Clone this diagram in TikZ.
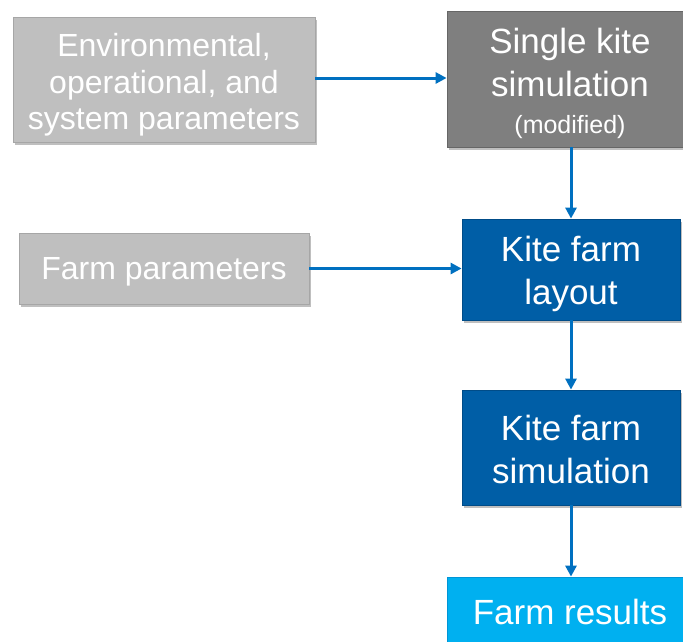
\documentclass[tikz,border=0pt]{standalone}
\usepackage{fontspec}
\setmainfont{Liberation Sans}
\usetikzlibrary{arrows.meta,shadows}
\definecolor{boxgrey}{HTML}{BFBFBF}
\definecolor{boxgreyline}{HTML}{A6A6A6}
\definecolor{darkgrey}{HTML}{7F7F7F}
\definecolor{darkgreyline}{HTML}{666666}
\definecolor{kiteblue}{HTML}{005EA6}
\definecolor{kitebluel}{HTML}{004C88}
\definecolor{lightblue}{HTML}{00B0F0}
\definecolor{lightbluel}{HTML}{0095D6}
\definecolor{arrowblue}{HTML}{0070C0}
\newcommand\liftstrut[1]{\rule{0pt}{#1}}
\tikzset{
  basebox/.style={rectangle, inner sep=0pt, align=center, text=white, line width=0.8pt,
    drop shadow={shadow xshift=1.5pt, shadow yshift=-2.5pt, opacity=0.25, fill=black}},
  greybox/.style={basebox, fill=boxgrey, draw=boxgreyline, font=\fontsize{32}{36.5}\selectfont},
  darkbox/.style={basebox, fill=darkgrey, draw=darkgreyline, font=\fontsize{35}{43}\selectfont},
  bluebox/.style={basebox, fill=kiteblue, draw=kitebluel, font=\fontsize{35}{43}\selectfont},
  resultbox/.style={basebox, fill=lightblue, draw=lightbluel, font=\fontsize{35}{43}\selectfont},
  arr/.style={draw=arrowblue, line width=3pt, -{Triangle[length=11pt,width=11pt]}}
}
\begin{document}
\begin{tikzpicture}[x=1pt,y=-1pt]
\useasboundingbox (0,0) rectangle (683,641);
\node[greybox, minimum width=302pt, minimum height=125pt] (env) at (164,79.5)
  {\liftstrut{34pt}Environmental,\\operational, and\\system parameters};
\node[darkbox, minimum width=246pt, minimum height=136pt] (single) at (570,79)
  {\liftstrut{35pt}Single kite\\simulation\\[-6pt]{\fontsize{25}{30}\selectfont (modified)}};
\node[greybox, minimum width=290pt, minimum height=71pt] (farmpar) at (164,268.5)
  {\liftstrut{29.5pt}Farm parameters};
\node[bluebox, minimum width=218pt, minimum height=101pt] (layout) at (571,269.5)
  {\liftstrut{33.5pt}Kite farm\\layout};
\node[bluebox, minimum width=218pt, minimum height=115pt] (sim) at (571,447.5)
  {\liftstrut{29.5pt}Kite farm\\simulation};
\node[resultbox, minimum width=246pt, minimum height=70pt] (res) at (570,612)
  {Farm results};
\draw[arr] ([yshift=1.5pt]env.east) -- ([yshift=1.5pt]env.east -| single.west);
\draw[arr] (farmpar.east) -- (farmpar.east -| layout.west);
\draw[arr] (single.south -| layout.north) -- (layout.north);
\draw[arr] (layout.south) -- (sim.north);
\draw[arr] (sim.south) -- (sim.south |- res.north);
\end{tikzpicture}
\end{document}
